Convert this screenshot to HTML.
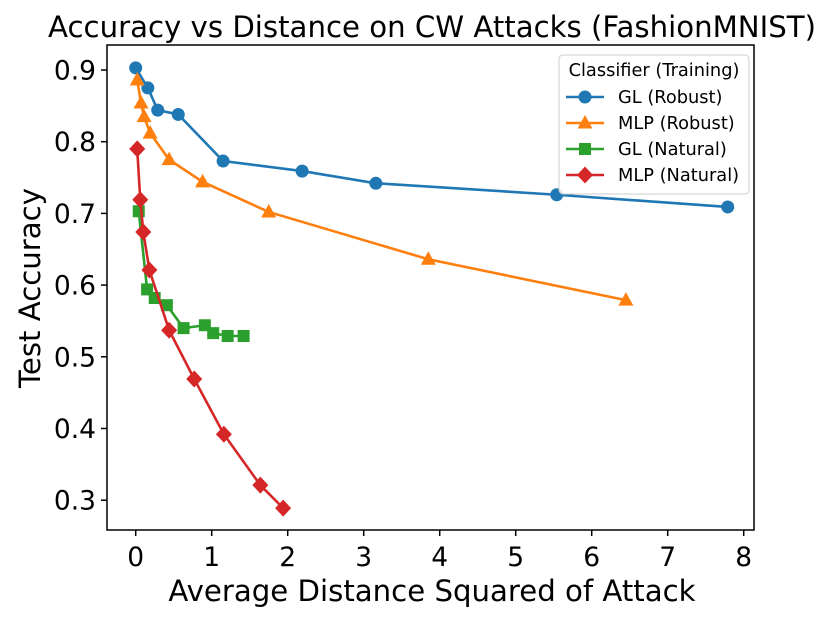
<!DOCTYPE html>
<html><head><meta charset="utf-8"><style>
html,body{margin:0;padding:0;background:#fff;}
svg{display:block;font-family:"DejaVu Sans","Liberation Sans",sans-serif;}
</style></head><body>
<svg id="chart" width="830" height="620">
<rect x="0" y="0" width="830" height="620" fill="#fff"/>
<text x="432" y="37" text-anchor="middle" font-size="29.2">Accuracy vs Distance on CW Attacks (FashionMNIST)</text>
<text x="432" y="601" text-anchor="middle" font-size="29.2">Average Distance Squared of Attack</text>
<text transform="translate(40,288) rotate(-90)" text-anchor="middle" font-size="29.2">Test Accuracy</text>
<g id="ticks"></g>
<g id="series"></g>
<rect x="107" y="45" width="647" height="485" fill="none" stroke="#000" stroke-width="1.5"/>
<g id="legend">
<rect x="559" y="55" width="190" height="139" rx="4" fill="#fff" fill-opacity="0.85" stroke="#ccc"/>
<text x="654" y="76" text-anchor="middle" font-size="17.8">Classifier (Training)</text>
</g>
</svg>
<script>
const xTicks=[0,1,2,3,4,5,6,7,8];
const yTicks=[0.3,0.4,0.5,0.6,0.7,0.8,0.9];
const seriesNames=["GL (Robust)","MLP (Robust)","GL (Natural)","MLP (Natural)"];
const glRobustX=[0.0,0.16,0.29,0.56,1.15,2.19,3.16,5.54,7.79];
const glRobustY=[0.903,0.875,0.844,0.838,0.773,0.759,0.742,0.726,0.709];
const mlpRobustX=[0.02,0.07,0.11,0.19,0.44,0.88,1.75,3.85,6.45];
const mlpRobustY=[0.886,0.854,0.835,0.812,0.775,0.744,0.702,0.636,0.579];
const glNaturalX=[0.04,0.15,0.25,0.41,0.63,0.91,1.02,1.21,1.42];
const glNaturalY=[0.703,0.594,0.582,0.572,0.540,0.544,0.533,0.529,0.529];
const mlpNaturalX=[0.02,0.06,0.10,0.18,0.44,0.77,1.16,1.64,1.94];
const mlpNaturalY=[0.790,0.719,0.674,0.621,0.537,0.469,0.392,0.321,0.289];

const NS="http://www.w3.org/2000/svg";
function sx(v){return 135.7+v*76;}
function sy(v){return 70+(0.9-v)*717;}
function mk(tag,attrs,parent){const e=document.createElementNS(NS,tag);for(const k in attrs)e.setAttribute(k,attrs[k]);parent.appendChild(e);return e;}
const tg=document.getElementById('ticks');
xTicks.forEach(t=>{
  const l=mk('line',{x1:sx(t),x2:sx(t),y1:530,y2:536,stroke:'#000','stroke-width':1.5},tg);
  
  
  const tx=mk('text',{x:sx(t),y:566,'text-anchor':'middle','font-size':26.5},tg);
  tx.textContent=t;
  
  
});
yTicks.forEach(t=>{
  const l=mk('line',{x1:101,x2:107,y1:sy(t),y2:sy(t),stroke:'#000','stroke-width':1.5},tg);
  
  
  const tx=mk('text',{x:96,y:sy(t)+9.5,'text-anchor':'end','font-size':26.5},tg);
  tx.textContent=t.toFixed(1);
  
  
});
function marker(shape,x,y,color,parent){
  let e;
  if(shape==='circle') e=mk('circle',{cx:x,cy:y,r:6.5,fill:color},parent);
  else if(shape==='triangle') e=mk('polygon',{points:`${x},${y-8} ${x-7.5},${y+5.5} ${x+7.5},${y+5.5}`,fill:color},parent);
  else if(shape==='square') e=mk('rect',{x:x-6,y:y-6,width:12,height:12,fill:color},parent);
  else e=mk('polygon',{points:`${x},${y-8.5} ${x+8},${y} ${x},${y+8.5} ${x-8},${y}`,fill:color},parent);
  return e;
}
const sg=document.getElementById('series');
const defs=[
 [glRobustX,glRobustY,'#1f77b4','circle','gl-robust'],
 [mlpRobustX,mlpRobustY,'#ff7f0e','triangle','mlp-robust'],
 [glNaturalX,glNaturalY,'#2ca02c','square','gl-natural'],
 [mlpNaturalX,mlpNaturalY,'#d62728','diamond','mlp-natural']];
defs.forEach(([xs,ys,c,shape,name])=>{
  const g=mk('g',{},sg);
  
  
  const pl=mk('polyline',{points:xs.map((x,i)=>sx(x)+','+sy(ys[i])).join(' '),fill:'none',stroke:c,'stroke-width':2.6},g);
  
  
  xs.forEach((x,i)=>{
    const m=marker(shape,sx(x),sy(ys[i]),c,g);
    
    
  });
});
const lg=document.getElementById('legend');
defs.forEach(([xs,ys,c,shape,name],i)=>{
  const y=97+i*26;
  const g=mk('g',{},lg);
  
  
  mk('line',{x1:566,x2:604,y1:y,y2:y,stroke:c,'stroke-width':2.6},g);
  marker(shape,585,y,c,g);
  const t=mk('text',{x:618,y:y+6,'font-size':17.8},g);
  t.textContent=seriesNames[i];
});
</script>
</body></html>
